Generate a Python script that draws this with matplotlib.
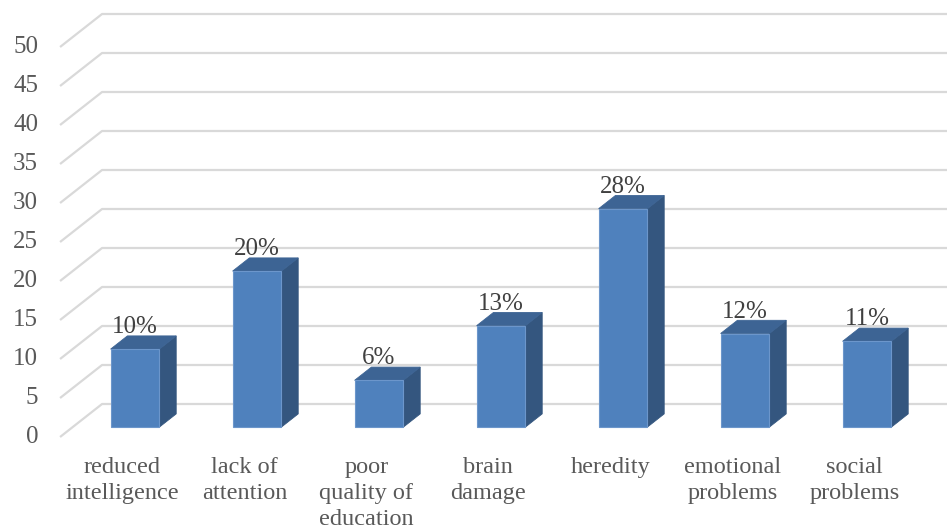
import matplotlib
matplotlib.use("Agg")
import matplotlib.pyplot as plt
from matplotlib.patches import Polygon

categories = [
    "reduced\nintelligence",
    "lack of\nattention",
    "poor\nquality of\neducation",
    "brain\ndamage",
    "heredity",
    "emotional\nproblems",
    "social\nproblems",
]
values = [10, 20, 6, 13, 28, 12, 11]
value_labels = ["10%", "20%", "6%", "13%", "28%", "12%", "11%"]
y_ticks = [0, 5, 10, 15, 20, 25, 30, 35, 40, 45, 50]

# pseudo-3d depth offset in data units (one category = 1, one value unit = 1)
DX = 42 / 122
DY = 33 / 7.8
D0, D1 = 0.3, 0.7      # bar depth span
HALF_W = 0.2           # half bar width
X_LEFT = -0.511        # front-left corner of the floor

FRONT = "#4F81BD"
SIDE = "#34567F"
TOP = "#3D6494"
EDGE = "#6C96CB"
GRID = "#D9D9D9"

plt.rcParams["font.family"] = ["Liberation Serif", "DejaVu Serif"]

fig = plt.figure(figsize=(9.47, 5.28), dpi=100)
ax = fig.add_axes([0, 0, 1, 1])
ax.set_xlim(-122.4 / 122, (947 - 122.4) / 122)
ax.set_ylim((437 - 528) / 7.8, 437 / 7.8)
ax.axis("off")


def proj(x, v, d):
    return (x + d * DX, v + d * DY)


# gridlines: side wall diagonal + back wall horizontal
x_right = len(categories) + 1
for t in y_ticks:
    p0 = proj(X_LEFT, t, 0)
    p1 = proj(X_LEFT, t, 1)
    p2 = proj(x_right, t, 1)
    ax.plot([p0[0], p1[0], p2[0]], [p0[1], p1[1], p2[1]],
            color=GRID, lw=1.6, zorder=1, solid_capstyle="butt")
    ax.text(X_LEFT - 0.18, t, str(t), ha="right", va="center",
            fontsize=18, color="#595959")

for i, v in enumerate(values):
    xl, xr = i - HALF_W, i + HALF_W
    front = [proj(xl, 0, D0), proj(xr, 0, D0), proj(xr, v, D0), proj(xl, v, D0)]
    side = [proj(xr, 0, D0), proj(xr, 0, D1), proj(xr, v, D1), proj(xr, v, D0)]
    top = [proj(xl, v, D0), proj(xr, v, D0), proj(xr, v, D1), proj(xl, v, D1)]
    ax.add_patch(Polygon(side, closed=True, facecolor=SIDE, edgecolor=SIDE,
                         lw=0.6, zorder=3))
    ax.add_patch(Polygon(top, closed=True, facecolor=TOP, edgecolor=TOP,
                         lw=0.6, zorder=3))
    ax.add_patch(Polygon(front, closed=True, facecolor=FRONT, edgecolor=EDGE,
                         lw=0.8, zorder=4))

    lx, ly = proj(i, v, D1)
    ax.text(i + D0 * DX, ly + 0.35, value_labels[i], ha="center",
            va="baseline", fontsize=18, color="#404040", zorder=5)

    ax.text(i, (437 - 457) / 7.8, categories[i], ha="center",
            va="top", fontsize=17.5, color="#595959", linespacing=1.3)

fig.savefig("out.png", dpi=100)
